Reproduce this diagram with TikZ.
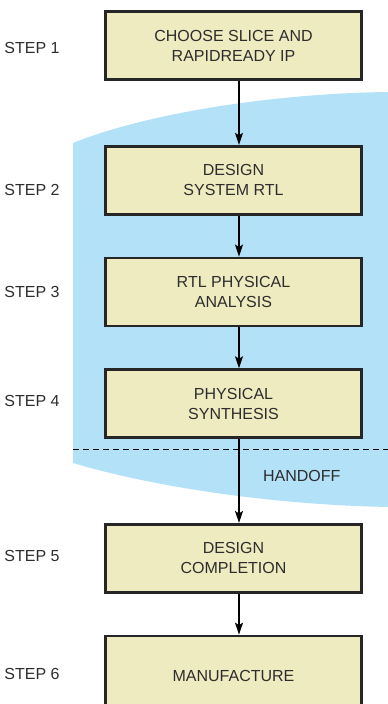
\documentclass[tikz,border=0pt]{standalone}
\usepackage{fontspec}
\setmainfont{Liberation Sans}
\usetikzlibrary{positioning}
\usetikzlibrary{arrows.meta}

\definecolor{flowblue}{RGB}{179,225,247}
\definecolor{boxfill}{RGB}{238,235,193}
\definecolor{inkgray}{RGB}{45,45,45}

\begin{document}
\begin{tikzpicture}[x=1pt, y=-1pt, node distance=41pt,
    stepbox/.style={draw=black!85, line width=2.7pt, fill=boxfill,
        minimum width=256pt, minimum height=68pt, align=center,
        text=inkgray, font=\fontsize{16}{20}\selectfont},
    steplabel/.style={text=inkgray, font=\fontsize{16}{20}\selectfont},
    flow/.style={-{Stealth[length=12pt, width=8pt, inset=2.5pt]}, line width=1.3pt}]

    \useasboundingbox (0,0) rectangle (388,704);
    \clip (0,0) rectangle (388,704);

    % shaded region behind steps 2-4
    \fill[flowblue] (73,143) .. controls (150,112) and (280,93) .. (390,92)
        -- (390,507) .. controls (270,505) and (150,486) .. (73,463) -- cycle;
    \draw[dash pattern=on 6pt off 4pt, line width=1pt] (73,449) -- (390,449);

    \node(choose)[stepbox] at (233.5,45.5) {CHOOSE SLICE AND\\RAPIDREADY IP};
    \node(design)[stepbox, below=64pt of choose] {DESIGN\\SYSTEM RTL};
    \node(analysis)[stepbox, below=of design] {RTL PHYSICAL\\ANALYSIS};
    \node(synthesis)[stepbox, below=of analysis] {PHYSICAL\\SYNTHESIS};
    \node(completion)[stepbox, below=84pt of synthesis] {DESIGN\\COMPLETION};
    \node(manufacture)[stepbox, minimum height=80pt, below=of completion] {MANUFACTURE};

    \node(s1)[steplabel, left=41pt of choose, yshift=-2.5pt] {STEP 1};
    \node(s2)[steplabel, left=41pt of design, yshift=-9.5pt] {STEP 2};
    \node(s3)[steplabel, left=41pt of analysis] {STEP 3};
    \node(s4)[steplabel, left=41pt of synthesis, yshift=2.5pt] {STEP 4};
    \node(s5)[steplabel, left=41pt of completion, yshift=2pt] {STEP 5};
    \node(s6)[steplabel, left=41pt of manufacture, yshift=2pt] {STEP 6};

    \node(handoff)[steplabel] at (301.7,476) {HANDOFF};

    \draw[flow] ([xshift=5.5pt]choose.south) -- ([xshift=5.5pt]design.north);
    \draw[flow] ([xshift=5.5pt]design.south) -- ([xshift=5.5pt]analysis.north);
    \draw[flow] ([xshift=5.5pt]analysis.south) -- ([xshift=5.5pt]synthesis.north);
    \draw[flow] ([xshift=5.5pt]synthesis.south) -- ([xshift=5.5pt]completion.north);
    \draw[flow] ([xshift=5.5pt]completion.south) -- ([xshift=5.5pt]manufacture.north);

\end{tikzpicture}
\end{document}
